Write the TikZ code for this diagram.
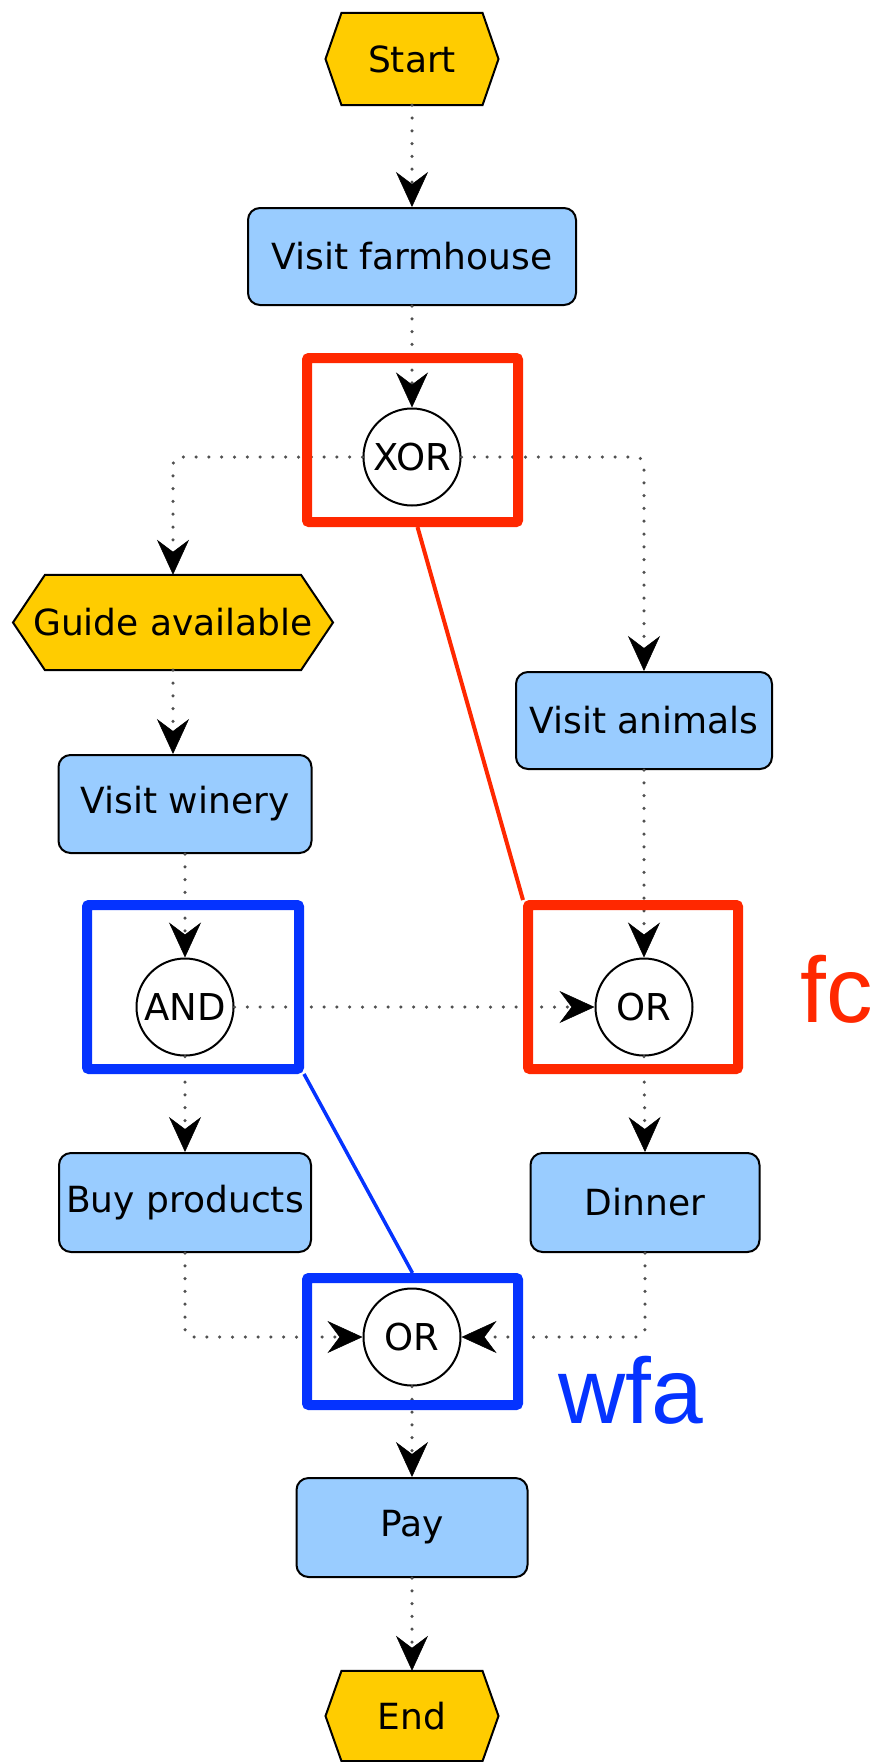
\documentclass[tikz,border=0pt]{standalone}
\usepackage{fontspec}
\setmainfont{DejaVu Sans}
\newfontfamily\labelfont{Liberation Sans}
\usetikzlibrary{arrows.meta,backgrounds}
\definecolor{hexfill}{HTML}{FFCC00}
\definecolor{actfill}{HTML}{99CCFF}
\definecolor{fcred}{HTML}{FF2800}
\definecolor{wfablue}{HTML}{0533FF}
\definecolor{dotgray}{HTML}{505050}
\tikzset{
  act/.style={draw=black, line width=2pt, fill=actfill, rounded corners=12pt,
    inner sep=0pt, font=\fontsize{36}{40}\selectfont},
  hexbox/.style={inner sep=0pt, font=\fontsize{36}{40}\selectfont},
  hexshape/.style={draw=black, line width=2pt, fill=hexfill},
  gate/.style={circle, draw=black, line width=2pt, fill=white, minimum size=97pt,
    inner sep=0pt, font=\fontsize{37}{40}\selectfont},
  flow/.style={dotgray, line width=3.5pt, line cap=round, dash pattern=on 0pt off 12.8pt,
    rounded corners=8pt,
    -{Stealth[length=35pt, width=32pt, inset=12pt, color=black, line width=0.5pt]}},
  hl/.style={line width=10pt, rounded corners=2pt, inner sep=0pt},
  biglabel/.style={inner sep=0pt, anchor=base west, font=\labelfont\fontsize{93}{93}\selectfont}
}
\begin{document}
\begin{tikzpicture}[x=1pt,y=-1pt]
\useasboundingbox (0,0) rectangle (878,1762);
% hexagon events
\node[hexbox, minimum width=141pt, minimum height=92pt] (start) at (412,59) {Start};
\node[hexbox, minimum width=256pt, minimum height=95pt] (guide) at (173,622.5) {Guide available};
\node[hexbox, minimum width=141pt, minimum height=90pt] (end) at (412,1716) {End};
\begin{scope}[on background layer]
  \draw[hexshape] ([xshift=-70.5pt]start.north) -- ([xshift=70.5pt]start.north)
     -- ([xshift=86.5pt]start.center) -- ([xshift=70.5pt]start.south)
     -- ([xshift=-70.5pt]start.south) -- ([xshift=-86.5pt]start.center) -- cycle;
  \draw[hexshape] ([xshift=-128pt]guide.north) -- ([xshift=128pt]guide.north)
     -- ([xshift=160pt]guide.center) -- ([xshift=128pt]guide.south)
     -- ([xshift=-128pt]guide.south) -- ([xshift=-160pt]guide.center) -- cycle;
  \draw[hexshape] ([xshift=-70.5pt]end.north) -- ([xshift=70.5pt]end.north)
     -- ([xshift=86.5pt]end.center) -- ([xshift=70.5pt]end.south)
     -- ([xshift=-70.5pt]end.south) -- ([xshift=-86.5pt]end.center) -- cycle;
\end{scope}
% activities
\node[act, minimum width=328pt, minimum height=97pt] (farm) at (412,256.5) {Visit farmhouse};
\node[act, minimum width=256pt, minimum height=97pt] (animals) at (644,720.5) {Visit animals};
\node[act, minimum width=253pt, minimum height=98pt] (winery) at (185,804) {Visit winery};
\node[act, minimum width=252pt, minimum height=99pt] (buy) at (185,1202.5) {Buy products};
\node[act, minimum width=229pt, minimum height=99pt] (dinner) at (645,1202.5) {Dinner};
\node[act, minimum width=231pt, minimum height=99pt] (pay) at (412,1527.5) {Pay};
% gates
\node[gate] (xor) at (412,457) {XOR};
\node[gate] (andg) at (185,1007) {AND};
\node[gate] (orfc) at (644,1007) {OR};
\node[gate] (orwfa) at (412,1337) {OR};
% flows
\draw[flow] (start.south) -- (farm.north);
\draw[flow] (farm.south) -- (xor.north);
\draw[flow] (xor.west) -| (guide.north);
\draw[flow] (xor.east) -| (animals.north);
\draw[flow] (guide.south) -- (guide.south |- winery.north);
\draw[flow] (winery.south) -- (andg.north);
\draw[flow] (andg.east) -- (orfc.west);
\draw[flow] (animals.south) -- (orfc.north);
\draw[flow] (orfc.south) -- (dinner.north);
\draw[flow] (andg.south) -- (buy.north);
\draw[flow] (buy.south) |- (orwfa.west);
\draw[flow] (dinner.south) |- (orwfa.east);
\draw[flow] (orwfa.south) -- (pay.north);
\draw[flow] (pay.south) -- (end.north);
% highlight boxes
\node[hl, draw=fcred, minimum width=211pt, minimum height=164pt] (fcA) at (412.5,440) {};
\node[hl, draw=fcred, minimum width=210pt, minimum height=164pt] (fcB) at (633,987) {};
\node[hl, draw=wfablue, minimum width=212pt, minimum height=164pt] (wfA) at (193,987) {};
\node[hl, draw=wfablue, minimum width=211pt, minimum height=127pt] (wfB) at (412.5,1341.5) {};
\draw[fcred, line width=4pt] ([xshift=5pt]fcA.south) -- (fcB.north west);
\draw[wfablue, line width=3.5pt] (wfA.south east) -- (wfB.north);
% labels
\node[biglabel, text=fcred] (fclab) at (800,1022) {fc};
\node[biglabel, text=wfablue] (wfalab) at (558,1423) {wfa};
\end{tikzpicture}
\end{document}
